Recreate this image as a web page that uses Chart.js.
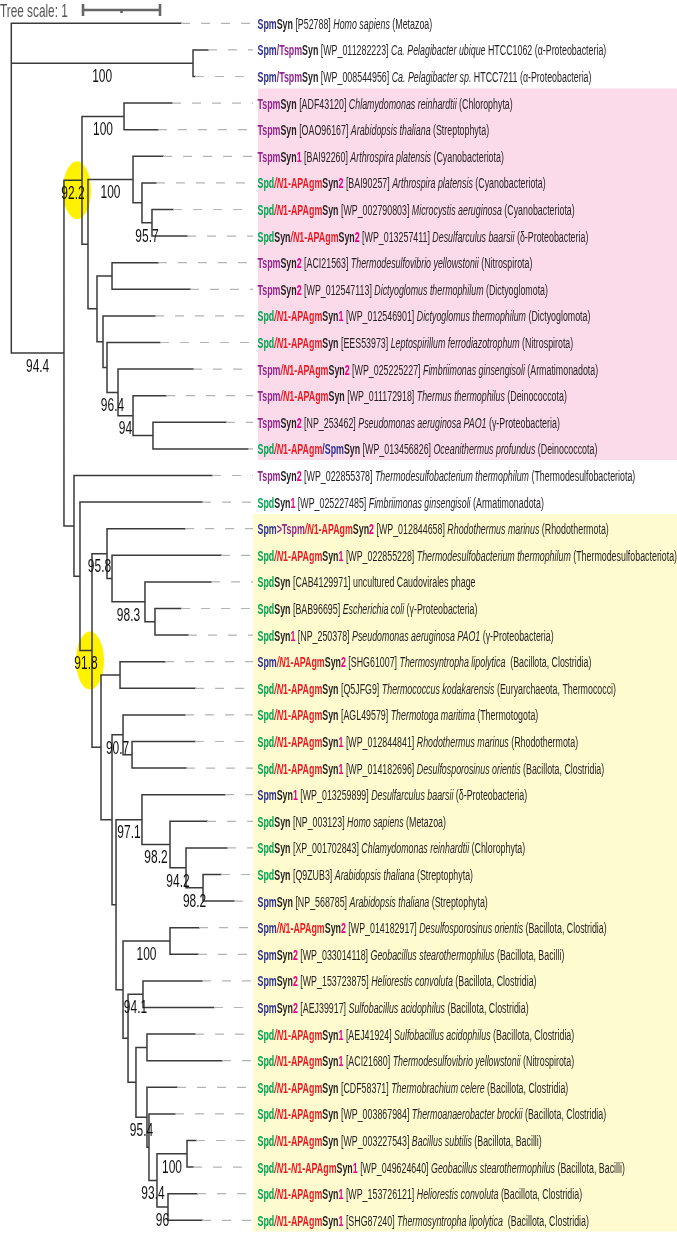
<!DOCTYPE html>
<html><head><meta charset="utf-8">
<script src="https://cdn.jsdelivr.net/npm/chart.js@4/dist/chart.umd.min.js"></script>
<style>html,body{margin:0;padding:0;background:#fff;overflow:hidden}#wrap{width:677px;height:1234px;position:relative}</style>
</head><body><div id="wrap"><canvas id="c"></canvas></div>
<script>
// ---------------- DATA ----------------
// leaf labels
const leafGenes = ["SpmSyn","Spm/TspmSyn","Spm/TspmSyn","TspmSyn","TspmSyn","TspmSyn1","Spd/N1-APAgmSyn2","Spd/N1-APAgmSyn","SpdSyn/N1-APAgmSyn2","TspmSyn2","TspmSyn2","Spd/N1-APAgmSyn1","Spd/N1-APAgmSyn","Tspm/N1-APAgmSyn2","Tspm/N1-APAgmSyn","TspmSyn2","Spd/N1-APAgm/SpmSyn","TspmSyn2","SpdSyn1","Spm>Tspm/N1-APAgmSyn2","Spd/N1-APAgmSyn1","SpdSyn","SpdSyn","SpdSyn1","Spm/N1-APAgmSyn2","Spd/N1-APAgmSyn","Spd/N1-APAgmSyn","Spd/N1-APAgmSyn1","Spd/N1-APAgmSyn1","SpmSyn1","SpdSyn","SpdSyn","SpdSyn","SpmSyn","Spm/N1-APAgmSyn2","SpmSyn2","SpmSyn2","SpmSyn2","Spd/N1-APAgmSyn1","Spd/N1-APAgmSyn1","Spd/N1-APAgmSyn","Spd/N1-APAgmSyn","Spd/N1-APAgmSyn","Spd/N1-N1-APAgmSyn1","Spd/N1-APAgmSyn1","Spd/N1-APAgmSyn1"];
const leafAccessions = ["P52788","WP_011282223","WP_008544956","ADF43120","OAO96167","BAI92260","BAI90257","WP_002790803","WP_013257411","ACI21563","WP_012547113","WP_012546901","EES53973","WP_025225227","WP_011172918","NP_253462","WP_013456826","WP_022855378","WP_025227485","WP_012844658","WP_022855228","CAB4129971","BAB96695","NP_250378","SHG61007","Q5JFG9","AGL49579","WP_012844841","WP_014182696","WP_013259899","NP_003123","XP_001702843","Q9ZUB3","NP_568785","WP_014182917","WP_033014118","WP_153723875","AEJ39917","AEJ41924","ACI21680","CDF58371","WP_003867984","WP_003227543","WP_049624640","WP_153726121","SHG87240"];
const leafSpecies = ["Homo sapiens","Ca. Pelagibacter ubique","Ca. Pelagibacter sp.","Chlamydomonas reinhardtii","Arabidopsis thaliana","Arthrospira platensis","Arthrospira platensis","Microcystis aeruginosa","Desulfarculus baarsii","Thermodesulfovibrio yellowstonii","Dictyoglomus thermophilum","Dictyoglomus thermophilum","Leptospirillum ferrodiazotrophum","Fimbriimonas ginsengisoli","Thermus thermophilus","Pseudomonas aeruginosa PAO1","Oceanithermus profundus","Thermodesulfobacterium thermophilum","Fimbriimonas ginsengisoli","Rhodothermus marinus","Thermodesulfobacterium thermophilum","","Escherichia coli","Pseudomonas aeruginosa PAO1","Thermosyntropha lipolytica ","Thermococcus kodakarensis","Thermotoga maritima","Rhodothermus marinus","Desulfosporosinus orientis","Desulfarculus baarsii","Homo sapiens","Chlamydomonas reinhardtii","Arabidopsis thaliana","Arabidopsis thaliana","Desulfosporosinus orientis","Geobacillus stearothermophilus","Heliorestis convoluta","Sulfobacillus acidophilus","Sulfobacillus acidophilus","Thermodesulfovibrio yellowstonii","Thermobrachium celere","Thermoanaerobacter brockii","Bacillus subtilis","Geobacillus stearothermophilus","Heliorestis convoluta","Thermosyntropha lipolytica "];
const leafSpeciesExtra = ["","HTCC1062","HTCC7211","","","","","","","","","","","","","","","","","","","uncultured Caudovirales phage","","","","","","","","","","","","","","","","","","","","","","","",""];
const leafTaxa = ["Metazoa","α-Proteobacteria","α-Proteobacteria","Chlorophyta","Streptophyta","Cyanobacteriota","Cyanobacteriota","Cyanobacteriota","δ-Proteobacteria","Nitrospirota","Dictyoglomota","Dictyoglomota","Nitrospirota","Armatimonadota","Deinococcota","γ-Proteobacteria","Deinococcota","Thermodesulfobacteriota","Armatimonadota","Rhodothermota","Thermodesulfobacteriota","","γ-Proteobacteria","γ-Proteobacteria","Bacillota, Clostridia","Euryarchaeota, Thermococci","Thermotogota","Rhodothermota","Bacillota, Clostridia","δ-Proteobacteria","Metazoa","Chlorophyta","Streptophyta","Streptophyta","Bacillota, Clostridia","Bacillota, Bacilli","Bacillota, Clostridia","Bacillota, Clostridia","Bacillota, Clostridia","Nitrospirota","Bacillota, Clostridia","Bacillota, Clostridia","Bacillota, Bacilli","Bacillota, Bacilli","Bacillota, Clostridia","Bacillota, Clostridia"];
// leaf branch: parent node and tip depth (tree units)
const leafParents = ["root","A","A","XA","XA","E","G","H","H","I","I","J","K","L","M","N","N","P","Q","S","T","U","V","V","Y","Y","Z1","AA","AA","AC","AD","AE","AF","AF","AH","AH","AJ","AJ","AL","AL","AM","AM2","AO","AO","AP","AP"];
const leafDepths = [2.204,2.555,2.386,2.087,1.905,1.970,1.879,2.100,2.282,1.905,2.321,1.866,1.931,2.360,2.009,2.788,3.074,2.606,2.477,2.256,2.723,2.594,2.204,2.295,1.996,2.386,2.256,2.386,2.269,2.775,2.542,2.801,2.723,2.892,2.438,2.425,2.477,2.632,2.386,2.736,2.152,2.126,2.399,2.360,2.412,2.477];
// internal nodes
const nodeNames   = ["root","A","C","X","XA","D","E","G","H","F","I","J","K","L","M","N","P","Q","R","S","T","U","V","W","Y","Z","Z1","AA","AB","AC","AD","AE","AF","AG","AH","AI","AJ","AK","AL","AM","AM2","AN","AO","AP"];
const nodeParents = [null,"root","root","C","X","X","D","E","G","D","F","F","J","K","L","M","C","P","Q","R","S","T","U","R","W","W","Z","Z1","Z","AB","AC","AD","AE","AB","AG","AG","AI","AI","AK","AK","AM","AM2","AN","AN"];
const nodeDepths  = [0,2.360,0.684,0.918,1.464,0.996,1.581,1.697,1.827,1.113,1.308,1.191,1.243,1.386,1.581,1.840,0.814,0.892,1.048,1.243,1.308,1.736,1.866,1.165,1.412,1.308,1.451,1.568,1.360,1.697,2.061,2.269,2.490,1.451,2.061,1.516,1.710,1.619,1.762,1.762,1.788,1.892,2.282,2.035];
const nodeSupport = [null,"100","94.4","92.2","100",null,"100",null,"95.7",null,null,null,null,"96.4","94",null,null,null,"91.8","95.8",null,"98.3",null,null,null,null,"90.7",null,null,"97.1","98.2","94.2","98.2",null,"100",null,"94.1",null,null,"95.4",null,"93.4","100","96"];
const highlightedNodes = ["X","R"];
const treeScaleLength = 1;
const treeScaleLabel = "Tree scale: 1";
// background label bands (leaf index ranges)
const bandFirstLeaf = [3,19];
const bandLastLeaf = [16,45];

// ---------------- STYLE ----------------
const W = 677, H = 1234;
const ROOT_PX = 11.3, UNIT_PX = 77;          // 1 tree unit = 77px
const ROW0_PX = 23.3, ROW_PX = 26.6;
const X_MIN = -ROOT_PX/UNIT_PX, X_MAX = (W-ROOT_PX)/UNIT_PX;
const Y_MIN = -ROW0_PX/ROW_PX, Y_MAX = Y_MIN + H/ROW_PX;
const LEADER_END = (253-ROOT_PX)/UNIT_PX;
const LABEL_X = (257.5-ROOT_PX)/UNIT_PX;
const BAND_X = [(258-ROOT_PX)/UNIT_PX,(253-ROOT_PX)/UNIT_PX];
const BAND_COLORS = ["#fbdbea","#fefbcf"];
const VS = 1.24;
const LABEL_FS = 10.8, LABEL_VS = 1.3;
const GENE_COLORS = {"Spm":"#2e3192","Tspm":"#92278f","Spd":"#00a651","N1-APAgm":"#ed1c24","N1-":"#ed1c24","Syn":"#231f20","1":"#ec008c","2":"#ec008c"};
const TEXT_COL = "#231f20";

function narrowAvailable(){
  const c = document.createElement('canvas').getContext('2d');
  c.font = '20px monospace'; const a = c.measureText('abcdefghijklmnopqrstuvw').width;
  c.font = '20px "Liberation Sans Narrow", monospace'; const b = c.measureText('abcdefghijklmnopqrstuvw').width;
  return Math.abs(a-b) > 0.5;
}
const NARROW = narrowAvailable();
const FAM = NARROW ? '"Liberation Sans Narrow"' : '"Liberation Sans", Arial, sans-serif';
const HS = NARROW ? 1 : 0.82;

// ---------------- TREE LAYOUT ----------------
const depth = {}, parentOf = {}, children = {};
nodeNames.forEach((n,i)=>{ depth[n]=nodeDepths[i]; parentOf[n]=nodeParents[i]; children[n]=children[n]||[]; });
nodeNames.forEach((n,i)=>{ if(nodeParents[i]) children[nodeParents[i]].push(n); });
leafParents.forEach((p,i)=>{ const k='leaf'+i; depth[k]=leafDepths[i]; parentOf[k]=p; children[p].push(k); });
const ypos = {};
function layout(n){
  if(n.startsWith('leaf')){ ypos[n]=+n.slice(4); return ypos[n]; }
  const ys = children[n].map(layout);
  ypos[n] = (Math.min(...ys)+Math.max(...ys))/2; return ypos[n];
}
layout('root');
const extent = {};
nodeNames.forEach(n=>{ const ys=children[n].map(c=>ypos[c]); extent[n]=[Math.min(...ys),Math.max(...ys)]; });

const treePts = [];
const gap = {x:null,y:null};
Object.keys(parentOf).forEach(n=>{
  const p = parentOf[n]; if(!p) return;
  treePts.push({x:depth[p],y:ypos[n]},{x:depth[n],y:ypos[n]},gap);
});
nodeNames.forEach(n=>{ treePts.push({x:depth[n],y:extent[n][0]},{x:depth[n],y:extent[n][1]},gap); });
const leaderPts = [];
leafDepths.forEach((d,i)=>{ leaderPts.push({x:d,y:i},{x:LEADER_END,y:i},gap); });
const sx0 = (83-ROOT_PX)/UNIT_PX, sx1 = sx0+treeScaleLength, sy = (10-ROW0_PX)/ROW_PX;
const tk = 6/ROW_PX;
const scalePts = [{x:sx0,y:sy},{x:sx1,y:sy},gap,{x:sx0,y:sy-tk},{x:sx0,y:sy+tk},gap,{x:sx1,y:sy-tk},{x:sx1,y:sy+tk},gap,{x:(sx0+sx1)/2,y:sy},{x:(sx0+sx1)/2,y:sy+3/ROW_PX}];

// ---------------- TEXT HELPERS ----------------
const RE = /(Tspm|Spm|Spd|N1-APAgm|N1-|Syn|[12]|[\/>])/g;
function labelRuns(i, fs){
  const B='bold '+fs+'px '+FAM, BI='italic bold '+fs+'px '+FAM, N=fs+'px '+FAM, I='italic '+fs+'px '+FAM;
  const toks = leafGenes[i].match(RE); const runs=[];
  toks.forEach((t,k)=>{
    let col = (t==='/'||t==='>') ? GENE_COLORS[toks[k+1]] : GENE_COLORS[t];
    if(t.startsWith('N1')){ runs.push({t:'N',f:BI,c:col}); runs.push({t:t.slice(1),f:B,c:col}); }
    else runs.push({t:t,f:(t==='/'&&toks[k+1].startsWith('N1'))?BI:B,c:col});
  });
  runs.push({t:' ['+leafAccessions[i]+'] ',f:N,c:TEXT_COL});
  if(leafSpecies[i]) runs.push({t:leafSpecies[i],f:I,c:TEXT_COL});
  if(leafSpeciesExtra[i]) runs.push({t:(leafSpecies[i]?' ':'')+leafSpeciesExtra[i],f:N,c:TEXT_COL});
  if(leafTaxa[i]) runs.push({t:' ('+leafTaxa[i]+')',f:N,c:TEXT_COL});
  return runs;
}
function drawScaled(ctx, x, y, hs, vs, fn){ ctx.save(); ctx.translate(x,y); ctx.scale(hs,vs); fn(); ctx.restore(); }

const bgPlugin = {
  id:'bg',
  beforeDatasetsDraw(chart){
    const ctx=chart.ctx, xs=chart.scales.x, ys=chart.scales.y;
    ctx.save();
    bandFirstLeaf.forEach((f,k)=>{
      const x0=xs.getPixelForValue(BAND_X[k]), y0=ys.getPixelForValue(f-0.55), y1=ys.getPixelForValue(bandLastLeaf[k]+0.42);
      ctx.fillStyle=BAND_COLORS[k]; ctx.fillRect(x0,y0,chart.width-x0,y1-y0);
    });
    highlightedNodes.forEach(n=>{
      const cx=xs.getPixelForValue((depth[parentOf[n]]+depth[n])/2)+4, cy=ys.getPixelForValue(ypos[n])+10;
      ctx.fillStyle='#fff200'; ctx.beginPath(); ctx.ellipse(cx,cy,14,29,0,0,Math.PI*2); ctx.fill();
    });
    ctx.restore();
  },
  afterDatasetsDraw(chart){
    const ctx=chart.ctx, xs=chart.scales.x, ys=chart.scales.y;
    ctx.save(); ctx.textBaseline='alphabetic';
    // leaf labels
    leafGenes.forEach((g,i)=>{
      const x=xs.getPixelForValue(LABEL_X), y=ys.getPixelForValue(i)+5.4;
      drawScaled(ctx,x,y,HS,LABEL_VS,()=>{ let cx=0; labelRuns(i,LABEL_FS).forEach(r=>{ ctx.font=r.f; ctx.fillStyle=r.c; ctx.fillText(r.t,cx,0); cx+=ctx.measureText(r.t).width; }); });
    });
    // support values
    ctx.textAlign='center';
    nodeNames.forEach((n,i)=>{
      const s=nodeSupport[i]; if(!s) return;
      const x=xs.getPixelForValue((depth[parentOf[n]]+depth[n])/2), y=ys.getPixelForValue(ypos[n])+18.8;
      drawScaled(ctx,x,y,HS,VS,()=>{ ctx.font='14.6px '+FAM; ctx.fillStyle='#111'; ctx.fillText(s,0,0); });
    });
    // tree scale label
    ctx.textAlign='left';
    drawScaled(ctx,0,16.9,HS,VS,()=>{ ctx.font='14.4px '+FAM; ctx.fillStyle='#555'; ctx.fillText(treeScaleLabel,0,0); });
    ctx.restore();
  }
};

new Chart(document.getElementById('c'),{
  type:'scatter',
  data:{datasets:[
    {data:leaderPts,showLine:true,pointRadius:0,borderColor:'#b3b3b3',borderWidth:1.2,borderDash:[9,11],spanGaps:false},
    {data:treePts,showLine:true,pointRadius:0,borderColor:'#3a3a3a',borderWidth:1.5,borderCapStyle:'square',spanGaps:false},
    {data:scalePts,showLine:true,pointRadius:0,borderColor:'#666',borderWidth:2.6,spanGaps:false}
  ]},
  options:{
    responsive:true,maintainAspectRatio:false,animation:false,devicePixelRatio:1,events:[],
    layout:{padding:0},
    plugins:{legend:{display:false},tooltip:{enabled:false}},
    scales:{
      x:{type:'linear',min:X_MIN,max:X_MAX,display:false},
      y:{type:'linear',min:Y_MIN,max:Y_MAX,reverse:true,display:false}
    }
  },
  plugins:[bgPlugin]
});
</script></body></html>
